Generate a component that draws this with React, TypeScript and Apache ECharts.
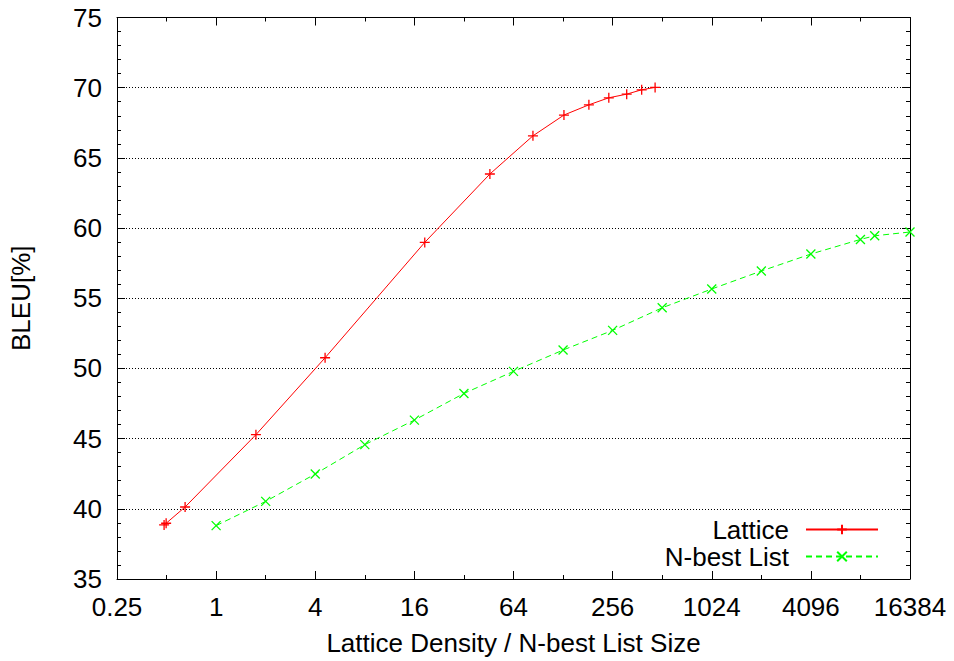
import React, { useEffect, useRef } from "react";
import * as echarts from "echarts";

const latticeX = [0.483, 0.497, 0.648, 1.745, 4.59, 18.5, 46.0, 84.0, 129.6, 183.7, 242.7, 311.7, 384.3, 463.7];
const latticeY = [38.85, 38.97, 40.13, 45.28, 50.76, 58.98, 63.85, 66.57, 68.05, 68.78, 69.28, 69.54, 69.85, 70.02];

const nbestX = [1, 2, 4, 8, 16, 32, 64, 128, 256, 512, 1024, 2048, 4096, 8192, 10000, 16384];
const nbestY = [38.8, 40.53, 42.48, 44.57, 46.32, 48.22, 49.79, 51.31, 52.71, 54.32, 55.66, 56.94, 58.15, 59.19, 59.45, 59.72];

const xTickLabels = ["0.25", "1", "4", "16", "64", "256", "1024", "4096", "16384"];

const FONT = "Liberation Sans, Arial, Helvetica, sans-serif";
const FS = 26;

export default function App() {
  const ref = useRef<HTMLDivElement>(null);
  useEffect(() => {
    if (!ref.current) return;
    const chart = echarts.init(ref.current, null, { renderer: "svg" });
    const toPts = (xs: number[], ys: number[]) => xs.map((v, i) => [Math.log2(v), ys[i]]);
    const labelFor = (v: number) => {
      const idx = Math.round((v + 2) / 2);
      return xTickLabels[idx] ?? String(Math.pow(2, v));
    };
    const baseX = {
      type: "value" as const,
      min: -2,
      max: 14,
      interval: 2,
      axisLine: { show: true, onZero: false, lineStyle: { color: "#000", width: 1 } },
      axisTick: { show: true, inside: true, length: 8, lineStyle: { color: "#000" } },
      minorTick: { show: true, splitNumber: 2, length: 4, lineStyle: { color: "#000" } },
      splitLine: { show: false },
    };
    const baseY = {
      type: "value" as const,
      min: 35,
      max: 75,
      interval: 5,
      axisLine: { show: true, onZero: false, lineStyle: { color: "#000", width: 1 } },
      axisTick: { show: true, inside: true, length: 8, lineStyle: { color: "#000" } },
      minorTick: { show: true, splitNumber: 5, length: 4, lineStyle: { color: "#000" } },
    };
    chart.setOption({
      animation: false,
      backgroundColor: "#fff",
      textStyle: { fontFamily: FONT },
      grid: { left: 115, right: 44, top: 17.5, bottom: 82, containLabel: false },
      xAxis: [
        {
          ...baseX,
          position: "bottom",
          name: "Lattice Density / N-best List Size",
          nameLocation: "middle",
          nameGap: 51,
          nameTextStyle: { color: "#000", fontSize: FS, fontFamily: FONT },
          axisLabel: { show: true, color: "#000", fontSize: FS, fontFamily: FONT, margin: 15, formatter: labelFor },
        },
        {
          ...baseX,
          position: "top",
          axisLabel: { show: false },
        },
      ],
      yAxis: [
        {
          ...baseY,
          position: "left",
          name: "BLEU[%]",
          nameLocation: "middle",
          nameGap: 83,
          nameTextStyle: { color: "#000", fontSize: FS, fontFamily: FONT },
          axisLabel: { show: true, color: "#000", fontSize: FS, fontFamily: FONT, margin: 15 },
          splitLine: { show: true, lineStyle: { color: "#000", width: 1, type: [1, 2] } },
        },
        {
          ...baseY,
          position: "right",
          axisLabel: { show: false },
          splitLine: { show: false },
        },
      ],
      legend: {
        show: true,
        orient: "vertical",
        align: "right",
        right: 75,
        top: 516,
        padding: 0,
        itemWidth: 72,
        itemHeight: 12,
        itemGap: 0,
        textStyle: { color: "#000", fontSize: FS, fontFamily: FONT, lineHeight: 27, padding: [0, 12, 0, 0] },
        data: ["Lattice", "N-best List"],
      },
      series: [
        {
          name: "Lattice",
          type: "line",
          xAxisIndex: 0,
          yAxisIndex: 0,
          data: toPts(latticeX, latticeY),
          symbol: "path://M5,0L5,10M0,5L10,5",
          symbolSize: 10,
          showAllSymbol: true,
          lineStyle: { color: "#ff0000", width: 1 },
          itemStyle: { color: "#ff0000", borderColor: "#ff0000", borderWidth: 1.3 },
        },
        {
          name: "N-best List",
          type: "line",
          xAxisIndex: 0,
          yAxisIndex: 0,
          data: toPts(nbestX, nbestY),
          symbol: "path://M0,0L10,10M0,10L10,0",
          symbolSize: 9,
          showAllSymbol: true,
          lineStyle: { color: "#00ff00", width: 1, type: [6, 4] },
          itemStyle: { color: "#00ff00", borderColor: "#00ff00", borderWidth: 1.3 },
        },
      ],
    });
    return () => chart.dispose();
  }, []);
  return <div ref={ref} style={{ position: "fixed", left: 0, top: 0, width: 954, height: 661 }} />;
}
